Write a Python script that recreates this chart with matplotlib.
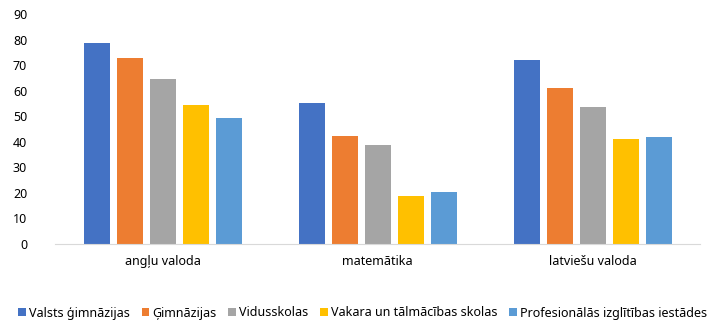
import numpy as np
import matplotlib
matplotlib.use("Agg")
import matplotlib.pyplot as plt

categories = ["angļu valoda", "matemātika", "latviešu valoda"]
series = ["Valsts ģimnāzijas", "Ģimnāzijas", "Vidusskolas",
          "Vakara un tālmācības skolas", "Profesionālās izglītības iestādes"]
values = [
    [78.6, 55.2, 72.0],
    [72.8, 42.3, 61.0],
    [64.6, 38.7, 53.6],
    [54.4, 18.8, 41.1],
    [49.3, 20.3, 41.9],
]
colors = ["#4472C4", "#ED7D31", "#A5A5A5", "#FFC000", "#5B9BD5"]

plt.rcParams['font.family'] = ['Noto Sans', 'DejaVu Sans']

fig = plt.figure(figsize=(7.12, 3.26), dpi=100)
ax = fig.add_axes([55 / 712, 1 - 244 / 326, 645 / 712, 230 / 326])

x = np.arange(len(categories))
step = 33 / 215
width = 26 / 215
for i, (name, vals) in enumerate(zip(series, values)):
    ax.bar(x + (i - 2) * step, vals, width, color=colors[i], label=name)

ax.set_xlim(-0.5, 2.5)
ax.set_ylim(0, 90)
ax.set_yticks(range(0, 91, 10))
ax.set_xticks(x)
ax.set_xticklabels(categories)
ax.tick_params(axis='both', length=0, labelsize=9, colors='#000000')
ax.tick_params(axis='y', pad=20)
ax.tick_params(axis='x', pad=8)
for s in ['top', 'right', 'left']:
    ax.spines[s].set_visible(False)
ax.spines['bottom'].set_color('#D9D9D9')

ax.legend(loc='center', bbox_to_anchor=(0.5 - 15 / 645, -0.3), ncol=5, frameon=False,
          fontsize=9, handlelength=0.6, handleheight=0.6, handletextpad=0.25,
          columnspacing=0.95, borderaxespad=0)

fig.savefig("out.png", dpi=100)
